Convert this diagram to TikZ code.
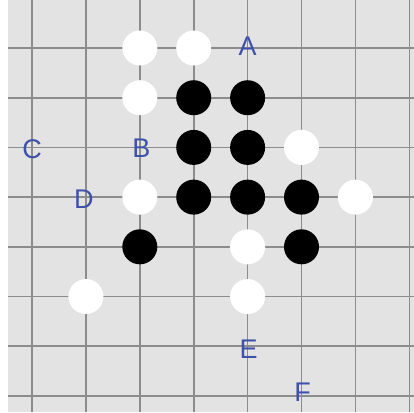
\documentclass[tikz,border=0pt]{standalone}
\usepackage{fontspec}
\newfontfamily\labelfont{Liberation Sans}
\usepackage{tikz}
\definecolor{boardgray}{RGB}{227,227,227}
\definecolor{gridgray}{RGB}{140,140,140}
\definecolor{labelblue}{RGB}{62,82,170}

\begin{document}
\begin{tikzpicture}[x=26.95pt, y=-24.85pt,
  stone/.style={circle, inner sep=0pt, minimum size=17.5pt},
  white stone/.style={stone, fill=white},
  black stone/.style={stone, fill=black},
  point/.style={font=\labelfont\fontsize{13.5}{13.5}\selectfont, text=labelblue,
    inner sep=0pt, text depth=0pt}]
  % board
  \useasboundingbox (-0.594,-0.966) rectangle (7.087,7.324);
  \fill[white] (-0.594,-0.966) rectangle (7.087,7.324);
  \fill[boardgray] (-0.445,-0.966) rectangle (7.087,7.324);
  \foreach \i in {0,...,7} {
    \draw[gridgray, line width=0.8pt] (\i,-0.966) -- (\i,7.324);
    \draw[gridgray, line width=0.8pt] (-0.445,\i) -- (7.087,\i);
  }
  % stones
  \foreach \c/\r [count=\n] in {2/0, 3/0, 2/1, 5/2, 2/3, 6/3, 4/4, 1/5, 4/5}
    \node[white stone] (w\n) at (\c,\r) {};
  \foreach \c/\r [count=\n] in {3/1, 4/1, 3/2, 4/2, 3/3, 4/3, 5/3, 2/4, 5/4}
    \node[black stone] (b\n) at (\c,\r) {};
  % marked points
  \node[point] (ptA) at (4,-0.04) {A};
  \node[point] (ptB) at (2.03,2.02) {B};
  \node[point] (ptC) at (0,2.03) {C};
  \node[point] (ptD) at (0.96,3.04) {D};
  \node[point] (ptE) at (4.02,6.06) {E};
  \node[point] (ptF) at (5.02,6.92) {F};
\end{tikzpicture}
\end{document}
